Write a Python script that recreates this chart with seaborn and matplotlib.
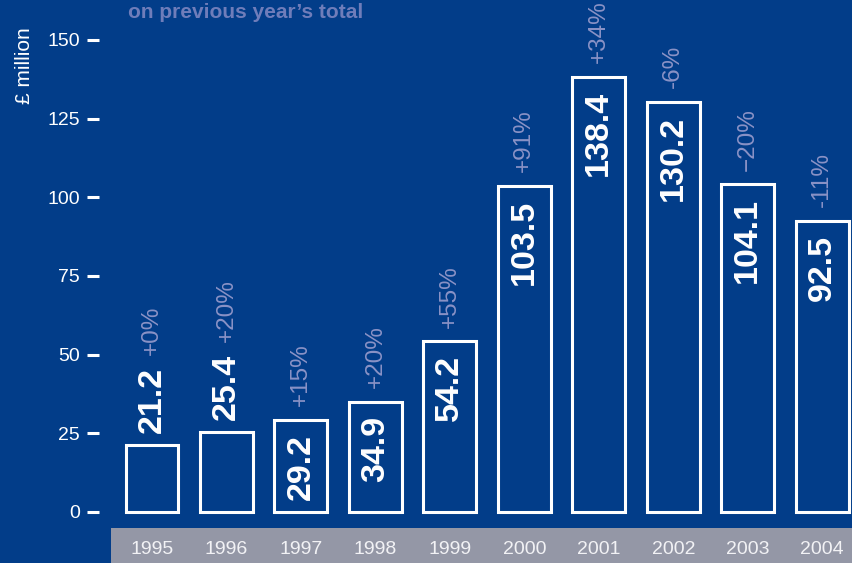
import matplotlib
matplotlib.use("Agg")
import matplotlib.pyplot as plt
import seaborn as sns
import pandas as pd
from matplotlib.patches import Rectangle
from matplotlib.transforms import offset_copy

years = ["1995", "1996", "1997", "1998", "1999", "2000", "2001", "2002", "2003", "2004"]
values = [21.2, 25.4, 29.2, 34.9, 54.2, 103.5, 138.4, 130.2, 104.1, 92.5]
value_labels = ["21.2", "25.4", "29.2", "34.9", "54.2", "103.5", "138.4", "130.2", "104.1", "92.5"]
pct_labels = ["+0%", "+20%", "+15%", "+20%", "+55%", "+91%", "+34%", "-6%", "\u221220%", "-11%"]
yticks = [0, 25, 50, 75, 100, 125, 150]
title_text = "on previous year\u2019s total"
ylabel_text = "\u00a3 million"

BG = "#023D89"
BAND = "#9497A6"
PCT = "#8A92C6"
TITLE = "#6F7DBA"

sns.set_theme(style="white")
plt.rcParams["font.family"] = ["Liberation Sans", "DejaVu Sans"]

W, H = 852, 563
fig = plt.figure(figsize=(W / 100, H / 100), dpi=100, facecolor=BG)
ax = fig.add_axes([111 / W, 35 / H, 1 - 111 / W, 1 - 35 / H])
ax.set_facecolor(BG)
ax.patch.set_alpha(0)

df = pd.DataFrame({"year": years, "value": values})
sns.barplot(data=df, x="year", y="value", order=years, color=BG, saturation=1,
            edgecolor="white", linewidth=2.2, width=0.71, ax=ax)

ppu = 472 / 150.0
ax.set_xlim(-0.55, 9.4)
ax.set_ylim(-16 / ppu, 512 / ppu)

# gray band with year labels
band = Rectangle((111 / W, 0), 1 - 111 / W, 35 / H, transform=fig.transFigure,
                 facecolor=BAND, edgecolor="none", zorder=-5)
fig.patches.append(band)
ax.set_zorder(1)
ax.tick_params(axis="x", length=0, pad=9, labelsize=14, labelcolor="#F2F2F5")
ax.set_xlabel("")

ax.set_yticks(yticks)
ax.spines["left"].set_position(("outward", 8.64))
for s in ax.spines.values():
    s.set_visible(False)
ax.tick_params(axis="y", left=True, length=8.64, width=2.2, color="white", pad=5,
               labelsize=14, labelcolor="white")
ax.set_ylabel("")

fig.canvas.draw()
renderer = fig.canvas.get_renderer()
for i, (v, vl, pl) in enumerate(zip(values, value_labels, pct_labels)):
    inside = v > 28
    if inside:
        t = ax.text(i, v, vl, rotation=90, ha="center", va="top", color="white",
                    fontsize=24.5, fontweight="bold",
                    transform=offset_copy(ax.transData, fig=fig, y=-10, units="points"))
        base_px = 10
    else:
        t = ax.text(i, v, vl, rotation=90, ha="center", va="bottom", color="white",
                    fontsize=24.5, fontweight="bold",
                    transform=offset_copy(ax.transData, fig=fig, y=8.5, units="points"))
        fig.canvas.draw()
        ext = t.get_window_extent(renderer)
        base_px = 8.5 + ext.height * 72 / 100 + 9
    ax.text(i, v, pl, rotation=90, ha="center", va="bottom", color=PCT,
            fontsize=17.5,
            transform=offset_copy(ax.transData, fig=fig, y=base_px, units="points"))

fig.text(128 / W, 1 - 18 / H, title_text, ha="left", va="baseline", color=TITLE,
         fontsize=15, fontweight="bold")
fig.text(25 / W, 1 - 66 / H, ylabel_text, ha="center", va="center", rotation=90,
         color="white", fontsize=15)

fig.savefig("out.png", dpi=100, facecolor=BG)
